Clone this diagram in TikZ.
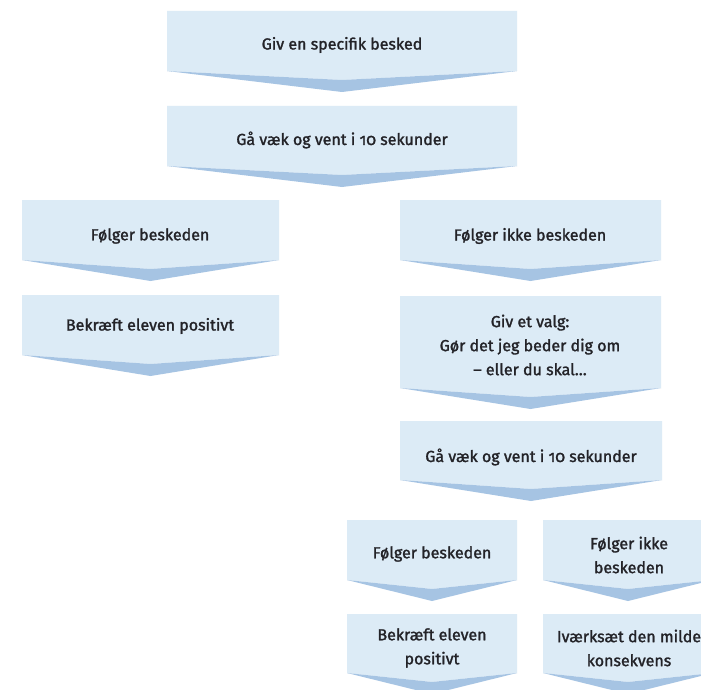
\documentclass[tikz,border=0pt]{standalone}
\usepackage{fontspec}
\setmainfont{Fira Sans}[Numbers=OldStyle,FakeBold=1.6]
\definecolor{lightb}{RGB}{220,235,246}
\definecolor{darkb}{RGB}{166,196,227}
\definecolor{txt}{RGB}{35,35,40}
\newcommand{\chevbox}[4]{%
  \pgfmathsetmacro\cx{(#1+#2)/2}%
  \fill[lightb] (#1,#3) -- (#2,#3) -- (#2,#4) -- (\cx,#4+9) -- (#1,#4) -- cycle;
  \fill[darkb] (#1,#4) -- (\cx,#4+9) -- (#2,#4) -- (\cx,#4+21) -- cycle;
}
\begin{document}
\begin{tikzpicture}[x=1pt,y=-1pt,
  lbl/.style={text=txt,font=\fontsize{16}{24}\selectfont,align=center,inner sep=0pt}]
\useasboundingbox (0,0) rectangle (701,690);
\clip (0,0) rectangle (701,690);
\fill[white] (0,0) rectangle (701,690);
\chevbox{167}{517}{11}{71}
\chevbox{167}{517}{106}{166}
\chevbox{22}{279}{200}{260}
\chevbox{22}{279}{295}{355}
\chevbox{400}{661}{200}{260}
\chevbox{400}{661}{296}{388}
\chevbox{400}{662}{421}{480}
\chevbox{347}{517}{520}{580}
\chevbox{543}{713}{520}{580}
\chevbox{347}{517}{614}{673}
\chevbox{543}{713}{614}{673}
\node[lbl] (n1) at (342,45) {Giv en specifik besked};
\node[lbl] (n2) at (342,140) {Gå væk og vent i 10 sekunder};
\node[lbl] (n3) at (150,236) {Følger beskeden};
\node[lbl] (n4) at (150,326) {Bekræft eleven positivt};
\node[lbl] (n5) at (530,236) {Følger ikke beskeden};
\node[lbl] (n6) at (530,345) {Giv et valg:\\Gør det jeg beder dig om\\– eller du skal…};
\node[lbl] (n7) at (531,457) {Gå væk og vent i 10 sekunder};
\node[lbl] (n8) at (432,554) {Følger beskeden};
\node[lbl] (n9) at (629,555) {Følger ikke\\beskeden};
\node[lbl] (n10) at (432,648) {Bekræft eleven\\positivt};
\node[lbl] (n11) at (629,648) {Iværksæt den milde\\konsekvens};
\end{tikzpicture}
\end{document}
